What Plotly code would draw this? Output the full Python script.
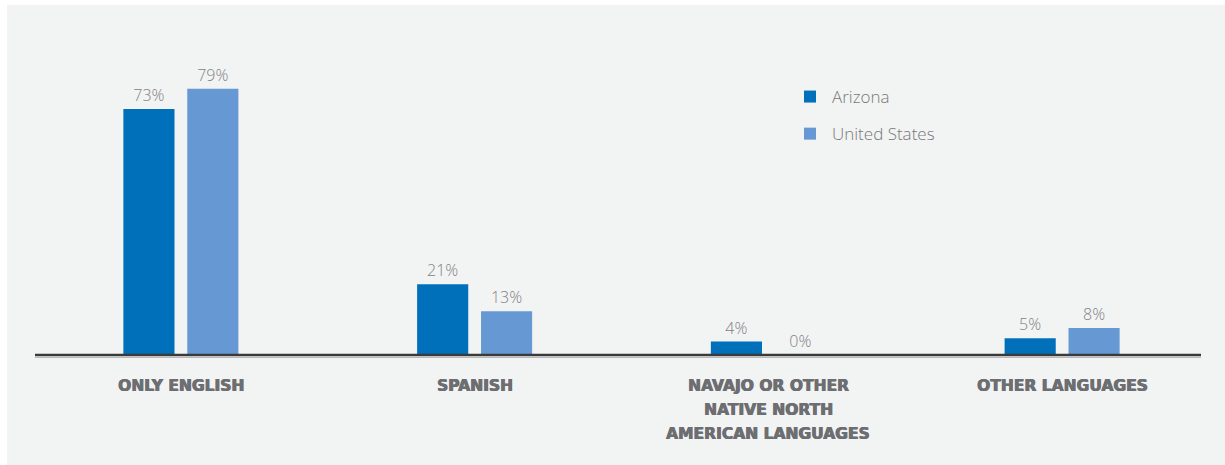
import plotly.graph_objects as go

# Language spoken at home, share of population
categories = ["ONLY ENGLISH", "SPANISH", "NAVAJO OR OTHER NATIVE NORTH AMERICAN LANGUAGES", "OTHER LANGUAGES"]
category_lines = [
    ["ONLY ENGLISH"],
    ["SPANISH"],
    ["NAVAJO OR OTHER", "NATIVE NORTH", "AMERICAN LANGUAGES"],
    ["OTHER LANGUAGES"],
]
arizona = [73, 21, 4, 5]
united_states = [79, 13, 0, 8]

AZ_COLOR = "#0070BA"
US_COLOR = "#6699D3"
PANEL = "#F2F3F3"
LABEL_GRAY = "#6D6E71"
VALUE_GRAY = "#808285"
LIGHT_FONT = "Open Sans"
HEAVY_FONT = "DejaVu Sans"

W, H = 1225, 465
L, R, T, B = 34, 16, 52, 110
PW, PH = W - L - R, H - T - B

fig = go.Figure()
for name, vals, color in [("Arizona", arizona, AZ_COLOR), ("United States", united_states, US_COLOR)]:
    fig.add_trace(go.Bar(
        x=categories, y=vals, name=name, marker_color=color, marker_line_width=0,
        text=[f"{v}%" for v in vals], textposition="outside", cliponaxis=False,
        textfont=dict(family=LIGHT_FONT, size=16, color=VALUE_GRAY, weight=300),
        legendgroup=name,
    ))

# category labels below the axis, one annotation per line
for cat, lines in zip(categories, category_lines):
    for i, line in enumerate(lines):
        fig.add_annotation(
            x=cat, xref="x", y=0, yref="y", yanchor="middle",
            yshift=-(30.5 + 24 * i), text=line, showarrow=False,
            font=dict(family=HEAVY_FONT, size=15.5, color=LABEL_GRAY, weight="bold",
                      shadow="0.6px 0 0 #6D6E71, -0.3px 0 0 #6D6E71"),
        )

# panel background behind the chart
def px_x(p):
    return (p - L) / PW

def px_y(p):
    return 1 - (p - T) / PH

fig.add_shape(type="rect", xref="paper", yref="paper", layer="below",
              x0=px_x(7), x1=px_x(W + 2), y0=px_y(H + 2), y1=px_y(5),
              fillcolor=PANEL, line_width=0)
# baseline with a soft shadow beneath
fig.add_shape(type="line", xref="paper", yref="paper",
              x0=px_x(35), x1=px_x(1201), y0=px_y(357.5), y1=px_y(357.5),
              line=dict(color="#B8B9BA", width=1))
fig.add_shape(type="line", xref="paper", yref="paper",
              x0=px_x(35), x1=px_x(1201), y0=0, y1=0,
              line=dict(color="#3A3A3A", width=2.5))

fig.update_layout(
    width=W, height=H,
    margin=dict(l=L, r=R, t=T, b=B),
    paper_bgcolor="white", plot_bgcolor="rgba(0,0,0,0)",
    barmode="group", bargap=0.565, bargroupgap=0.2,
    showlegend=True,
    legend=dict(x=px_x(788), y=px_y(79), xanchor="left", yanchor="top",
                bgcolor="rgba(0,0,0,0)", tracegroupgap=12, itemwidth=34,
                font=dict(family=LIGHT_FONT, size=17, color="#77787B", weight=300)),
    xaxis=dict(showticklabels=False, showgrid=False, zeroline=False,
               showline=False, range=[-0.5, 3.5], fixedrange=True),
    yaxis=dict(visible=False, range=[0, PH / 3.37], fixedrange=True),
)

fig.write_html("out.html")
